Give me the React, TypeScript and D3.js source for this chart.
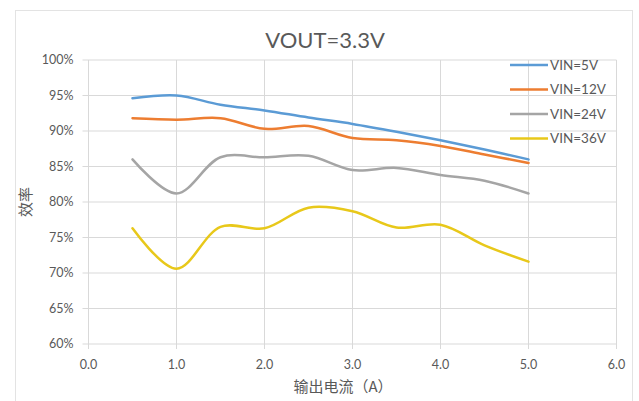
import React from "react";
import * as d3 from "d3";

const currents = [0.5, 1.0, 1.5, 2.0, 2.5, 3.0, 3.5, 4.0, 4.5, 5.0];
const vin5 = [94.6, 95.0, 93.7, 92.9, 91.9, 91.0, 89.9, 88.7, 87.4, 86.0];
const vin12 = [91.8, 91.6, 91.8, 90.3, 90.7, 89.0, 88.7, 87.9, 86.7, 85.5];
const vin24 = [86.0, 81.2, 86.3, 86.3, 86.5, 84.5, 84.8, 83.8, 83.0, 81.2];
const vin36 = [76.3, 70.6, 76.5, 76.3, 79.2, 78.7, 76.4, 76.8, 73.9, 71.6];
const seriesNames = ["VIN=5V", "VIN=12V", "VIN=24V", "VIN=36V"];
const seriesColors = ["#5B9BD5", "#ED7D31", "#A5A5A5", "#E8C81A"];
const xTicks = [0, 1, 2, 3, 4, 5, 6];
const yTicks = [60, 65, 70, 75, 80, 85, 90, 95, 100];

export default function App() {
  const W = 639, H = 401;
  const x = d3.scaleLinear().domain([0, 6]).range([88.5, 616.5]);
  const y = d3.scaleLinear().domain([60, 100]).range([344, 60]);
  const all = [vin5, vin12, vin24, vin36];
  const line = d3
    .line<number>()
    .x((_, i) => x(currents[i]))
    .y((d) => y(d))
    .curve(d3.curveCatmullRom.alpha(0.5));
  const latin = "Lato, 'Noto Sans', sans-serif";
  const cjk = "'Noto Sans CJK SC', sans-serif";
  const textColor = "#595959";
  return (
    <svg
      width={W}
      height={H}
      style={{ position: "absolute", left: 0, top: 0, background: "#fff" }}
    >
      <rect x={0} y={0} width={W} height={H} fill="#fff" />
      <rect x={15.5} y={10.5} width={617} height={400} fill="none" stroke="#E3E3E3" strokeWidth={1} />
      {yTicks.map((t) => (
        <line key={"gy" + t} x1={x(0) - 6} x2={x(6)} y1={y(t)} y2={y(t)} stroke="#D9D9D9" strokeWidth={1} />
      ))}
      {xTicks.map((t) => (
        <line key={"gx" + t} x1={x(t)} x2={x(t)} y1={y(60) + 5} y2={y(100)} stroke="#D9D9D9" strokeWidth={1} />
      ))}
      {yTicks.map((t) => (
        <text key={"ty" + t} x={x(0) - 15} y={y(t)} dy="0.35em" textAnchor="end" fontFamily={latin} fontSize={12.5} fill={textColor}>
          {t}%
        </text>
      ))}
      {xTicks.map((t) => (
        <text key={"tx" + t} x={x(t)} y={y(60) + 25} textAnchor="middle" fontFamily={latin} fontSize={12.5} fill={textColor}>
          {d3.format(".1f")(t)}
        </text>
      ))}
      {all.map((s, i) => (
        <path key={"s" + i} d={line(s) || ""} fill="none" stroke={seriesColors[i]} strokeWidth={2.5} strokeLinecap="round" />
      ))}
      {seriesNames.map((n, i) => (
        <g key={"lg" + i} transform={`translate(510, ${65 + i * 24.5})`}>
          <line x1={0} x2={38} y1={0} y2={0} stroke={seriesColors[i]} strokeWidth={2.5} />
          <text x={40} y={0} dy="0.35em" fontFamily={latin} fontSize={13.5} fill={textColor}>
            {n}
          </text>
        </g>
      ))}
      <text x={325} y={48} textAnchor="middle" fontFamily={latin} fontSize={22} fill={textColor}>
        VOUT=3.3V
      </text>
      <text
        transform={`translate(24, 202) rotate(-90)`}
        textAnchor="middle"
        dominantBaseline="central"
        fontFamily={cjk}
        fontSize={15}
        fill={textColor}
      >
        效率
      </text>
      <text x={343} y={392} textAnchor="middle" fontFamily={cjk} fontSize={15} fill={textColor}>
        输出电流（A）
      </text>
    </svg>
  );
}
